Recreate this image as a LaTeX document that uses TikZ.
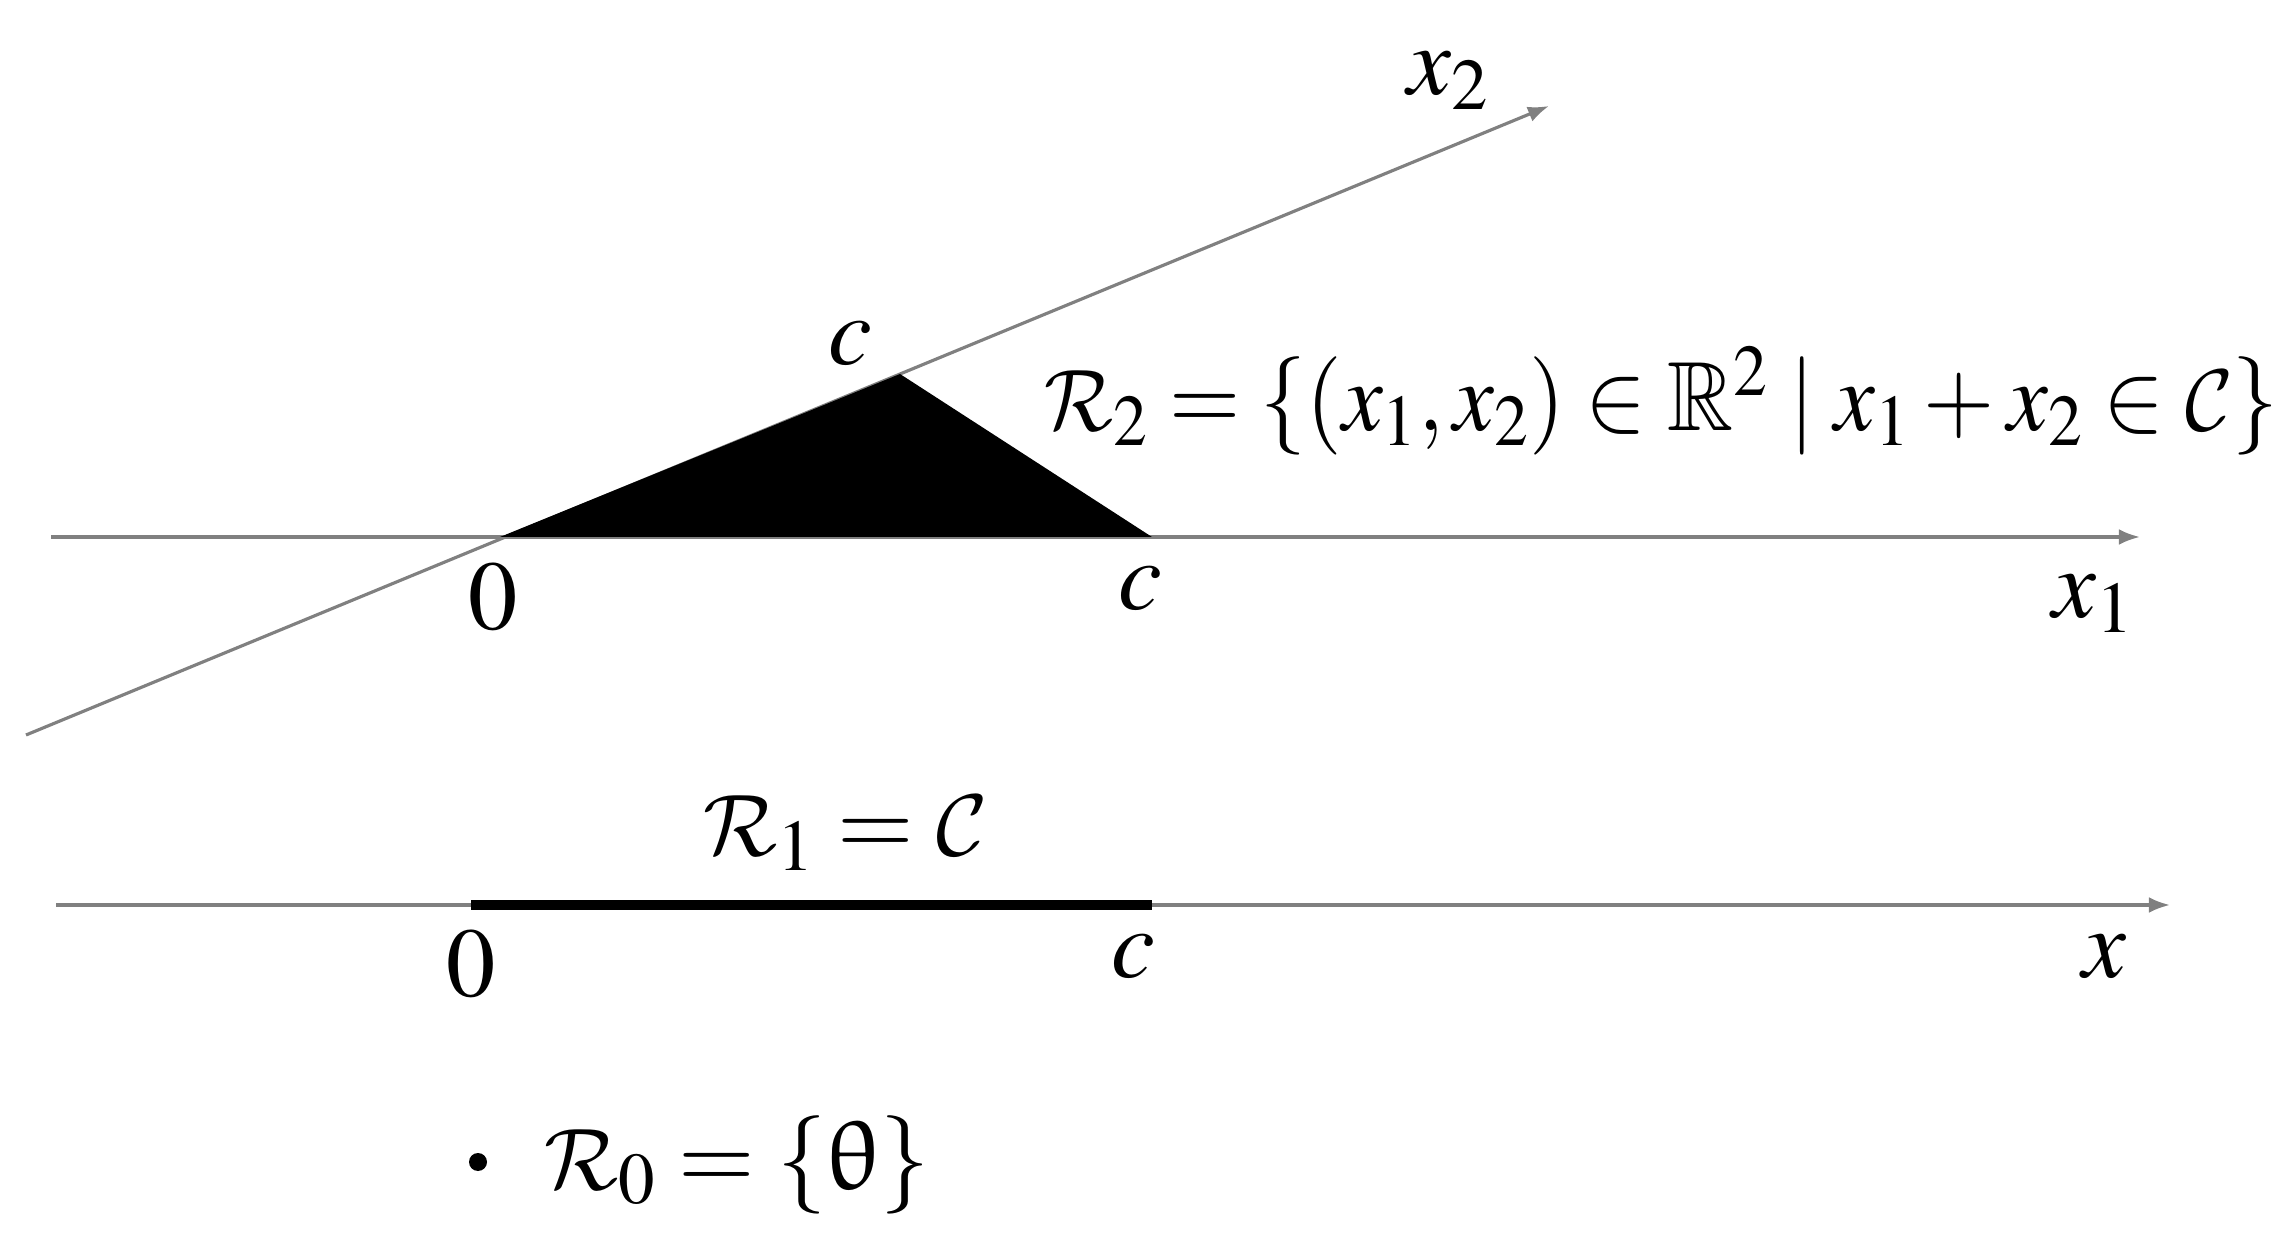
\documentclass[tikz,border=0pt]{standalone}
\usepackage{mathptmx}
\usepackage{amssymb}
\usepackage{upgreek}
\DeclareMathAlphabet{\mathcal}{OMS}{cmsy}{m}{n}
\usetikzlibrary{arrows.meta}
\tikzset{
  axis/.style={draw=gray,line width=0.9pt,->},
  lbl/.style={inner sep=0pt,anchor=base},
  lblw/.style={inner sep=0pt,anchor=base west}
}
\begin{document}
\begin{tikzpicture}[x=0.1mm,y=-0.1mm,line join=round,>={Latex[length=6pt,width=4.5pt]},font=\fontsize{28}{34}\selectfont]
  \useasboundingbox (0,0) rectangle (2295,1238);
  % plane: R_2
  \coordinate (O2) at (500,537);
  \coordinate (A1) at (1152,537);
  \coordinate (A2) at (900,374);
  \coordinate (x1s) at (51,537);
  \coordinate (x1e) at (2140,537);
  \coordinate (x2s) at (26,735);
  \coordinate (x2e) at (1549,106);
  \draw[axis] (x1s) -- (x1e);
  \draw[axis] (x2s) -- (x2e);
  \fill (O2) -- (A2) -- (A1) -- cycle;
  \node[lbl] (zeroA) at (493,630) {$0$};
  \node[lbl] (cA1) at (1140,610) {$c$};
  \node[lbl] (cA2) at (850,365) {$c$};
  \node[lblw] (lx1) at (2052,618) {$x_1$};
  \node[lblw] (lx2) at (1407,95) {$x_2$};
  \node[lblw] (R2) at (1044,431) {\scalebox{0.93}[1]{$\mathcal{R}_2=\{(x_1,x_2)\in\mathbb{R}^2\mid x_1+x_2\in\mathcal{C}\}$}};
  % line: R_1
  \coordinate (O1) at (471,905);
  \coordinate (B1) at (1152,905);
  \coordinate (xs) at (56,905);
  \coordinate (xe) at (2170,905);
  \draw[axis] (xs) -- (xe);
  \draw[line width=2.6pt] (O1) -- (B1);
  \node[lblw] (R1) at (703,856) {$\mathcal{R}_1=\mathcal{C}$};
  \node[lbl] (zeroB) at (471,997) {$0$};
  \node[lbl] (cB) at (1133,978) {$c$};
  \node[lbl] (lx) at (2104,978) {$x$};
  % point: R_0
  \coordinate (dot) at (478,1162);
  \fill (dot) circle (9);
  \node[lblw] (R0) at (544,1189) {$\mathcal{R}_0=\{\uptheta\}$};
\end{tikzpicture}
\end{document}
